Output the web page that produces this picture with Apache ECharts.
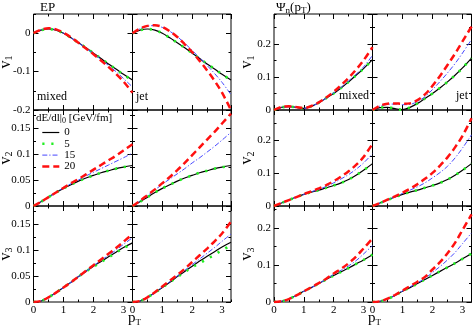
<!DOCTYPE html>
<html><head><meta charset="utf-8">
<script src="https://cdn.jsdelivr.net/npm/echarts@6/dist/echarts.min.js"></script>
<style>html,body{margin:0;padding:0;background:#fff}#c{width:473px;height:331px}</style>
</head><body><div id="c"></div>
<script>
// pT sample points (GeV)
const pT = [0,0.25,0.5,0.75,1,1.25,1.5,1.75,2,2.25,2.5,2.75,3,3.3];
// dE/dl|0 values [GeV/fm]
const losses = ['0','5','15','20'];
const xTickLabels = ['0','1','2','3'];

// EP panels: each is [dE=0, dE=5, dE=15, dE=20]
const epV1Mixed = [
  [0,0.008,0.011,0.008,0.0,-0.012,-0.025,-0.038,-0.052,-0.066,-0.08,-0.093,-0.107,-0.122],
  [0,0.008,0.011,0.008,0.0,-0.012,-0.025,-0.038,-0.052,-0.066,-0.08,-0.094,-0.108,-0.123],
  [0,0.009,0.012,0.009,0.0,-0.012,-0.025,-0.039,-0.053,-0.068,-0.084,-0.1,-0.118,-0.14],
  [0,0.009,0.013,0.01,0.001,-0.011,-0.025,-0.04,-0.055,-0.071,-0.088,-0.106,-0.126,-0.155]
];
const epV1Jet = [
  [0,0.008,0.011,0.008,0.0,-0.012,-0.025,-0.038,-0.052,-0.066,-0.08,-0.093,-0.107,-0.122],
  [0,0.008,0.011,0.008,0.0,-0.012,-0.025,-0.038,-0.052,-0.066,-0.08,-0.093,-0.107,-0.122],
  [0,0.012,0.018,0.02,0.015,0.005,-0.009,-0.026,-0.045,-0.064,-0.084,-0.105,-0.128,-0.16],
  [0,0.012,0.019,0.021,0.016,0.005,-0.01,-0.029,-0.049,-0.072,-0.097,-0.124,-0.155,-0.2]
];
const epV2Mixed = [
  [0,0.008,0.017,0.026,0.034,0.041,0.048,0.054,0.059,0.064,0.068,0.072,0.075,0.078],
  [0,0.008,0.017,0.026,0.034,0.041,0.048,0.054,0.059,0.064,0.068,0.072,0.075,0.078],
  [0,0.008,0.017,0.026,0.035,0.043,0.05,0.058,0.065,0.072,0.079,0.086,0.093,0.102],
  [0,0.008,0.017,0.026,0.035,0.044,0.052,0.061,0.07,0.079,0.088,0.097,0.107,0.119]
];
const epV2Jet = [
  [0,0.008,0.017,0.026,0.034,0.041,0.048,0.054,0.059,0.064,0.068,0.072,0.075,0.078],
  [0,0.008,0.017,0.026,0.034,0.041,0.048,0.054,0.059,0.064,0.068,0.072,0.075,0.077],
  [0,0.01,0.02,0.031,0.042,0.052,0.062,0.072,0.083,0.093,0.104,0.115,0.127,0.142],
  [0,0.01,0.021,0.032,0.044,0.056,0.069,0.083,0.098,0.113,0.128,0.143,0.159,0.178]
];
const epV3Mixed = [
  [0,0.002,0.009,0.018,0.028,0.038,0.049,0.059,0.069,0.078,0.087,0.096,0.105,0.114],
  [0,0.002,0.009,0.018,0.028,0.038,0.049,0.059,0.068,0.077,0.086,0.095,0.104,0.112],
  [0,0.002,0.009,0.018,0.028,0.038,0.049,0.059,0.07,0.08,0.09,0.1,0.111,0.124],
  [0,0.002,0.009,0.018,0.028,0.038,0.049,0.06,0.071,0.082,0.093,0.104,0.116,0.131]
];
const epV3Jet = [
  [0,0.002,0.009,0.018,0.028,0.038,0.049,0.059,0.069,0.079,0.088,0.097,0.106,0.115],
  [0,0.002,0.009,0.018,0.028,0.038,0.048,0.058,0.067,0.075,0.083,0.091,0.1,0.109],
  [0,0.002,0.009,0.018,0.029,0.039,0.05,0.061,0.072,0.083,0.094,0.105,0.117,0.131],
  [0,0.002,0.009,0.019,0.03,0.041,0.052,0.064,0.077,0.09,0.103,0.117,0.132,0.155]
];
// Psi_n(pT) panels
const psiV1Mixed = [
  [0,0.008,0.01,0.008,0.005,0.011,0.022,0.036,0.05,0.067,0.085,0.105,0.125,0.152],
  [0,0.008,0.01,0.008,0.005,0.011,0.022,0.036,0.05,0.067,0.085,0.105,0.125,0.152],
  [0,0.008,0.01,0.008,0.005,0.011,0.022,0.036,0.052,0.069,0.088,0.108,0.13,0.165],
  [0,0.009,0.011,0.009,0.006,0.012,0.023,0.038,0.055,0.075,0.097,0.122,0.15,0.19]
];
const psiV1Jet = [
  [0,0.007,0.008,0.004,0.001,0.008,0.02,0.035,0.05,0.067,0.085,0.105,0.127,0.157],
  [0,0.007,0.008,0.004,0.001,0.008,0.02,0.035,0.05,0.067,0.085,0.105,0.127,0.157],
  [0,0.012,0.017,0.018,0.016,0.017,0.026,0.04,0.062,0.086,0.112,0.14,0.172,0.213],
  [0,0.013,0.019,0.02,0.019,0.02,0.03,0.047,0.073,0.103,0.136,0.17,0.207,0.252]
];
const psiV2Mixed = [
  [0,0.009,0.018,0.027,0.035,0.042,0.048,0.055,0.062,0.07,0.08,0.093,0.108,0.128],
  [0,0.009,0.018,0.027,0.035,0.042,0.048,0.055,0.062,0.07,0.08,0.093,0.108,0.128],
  [0,0.009,0.018,0.027,0.035,0.043,0.05,0.059,0.07,0.082,0.095,0.111,0.13,0.158],
  [0,0.009,0.018,0.027,0.036,0.044,0.053,0.063,0.075,0.089,0.105,0.124,0.148,0.188]
];
const psiV2Jet = [
  [0,0.009,0.018,0.027,0.035,0.042,0.048,0.055,0.062,0.07,0.08,0.093,0.108,0.128],
  [0,0.009,0.018,0.027,0.035,0.042,0.048,0.055,0.062,0.07,0.08,0.093,0.108,0.128],
  [0,0.009,0.018,0.028,0.038,0.048,0.058,0.07,0.085,0.101,0.12,0.145,0.175,0.215],
  [0,0.009,0.019,0.029,0.04,0.052,0.066,0.082,0.1,0.122,0.147,0.177,0.212,0.265]
];
const psiV3Mixed = [
  [0,0.002,0.008,0.018,0.029,0.039,0.05,0.061,0.072,0.082,0.092,0.103,0.114,0.128],
  [0,0.002,0.008,0.018,0.029,0.039,0.05,0.061,0.072,0.082,0.092,0.103,0.114,0.128],
  [0,0.002,0.008,0.018,0.029,0.039,0.05,0.062,0.075,0.086,0.098,0.112,0.13,0.153],
  [0,0.002,0.008,0.018,0.029,0.04,0.051,0.063,0.077,0.09,0.105,0.123,0.145,0.172]
];
const psiV3Jet = [
  [0,0.002,0.008,0.018,0.029,0.039,0.05,0.061,0.072,0.083,0.094,0.105,0.117,0.131],
  [0,0.002,0.008,0.018,0.029,0.039,0.05,0.061,0.072,0.083,0.094,0.105,0.117,0.131],
  [0,0.002,0.008,0.018,0.03,0.041,0.052,0.064,0.08,0.096,0.114,0.134,0.158,0.187],
  [0,0.002,0.009,0.019,0.031,0.043,0.055,0.068,0.088,0.108,0.132,0.16,0.195,0.237]
];

const FONT = 'Liberation Serif';
const colX = [[33.5,99],[132.5,98.5],[274,98.5],[372.5,99]];
const rowY = [14,110,206];
const rowH = 96;

const panels = [
  {c:0,r:0,d:epV1Mixed,min:-0.2,max:0.05,maj:0.1,mi:0.05,n:'1'},
  {c:1,r:0,d:epV1Jet,min:-0.2,max:0.05,maj:0.1,mi:0.05},
  {c:0,r:1,d:epV2Mixed,min:0,max:0.185,maj:0.05,mi:0.025,n:'2'},
  {c:1,r:1,d:epV2Jet,min:0,max:0.185,maj:0.05,mi:0.025},
  {c:0,r:2,d:epV3Mixed,min:0,max:0.185,maj:0.05,mi:0.025,n:'3'},
  {c:1,r:2,d:epV3Jet,min:0,max:0.185,maj:0.05,mi:0.025},
  {c:2,r:0,d:psiV1Mixed,min:0,max:0.29,maj:0.1,mi:0.05,n:'1'},
  {c:3,r:0,d:psiV1Jet,min:0,max:0.29,maj:0.1,mi:0.05},
  {c:2,r:1,d:psiV2Mixed,min:0,max:0.29,maj:0.1,mi:0.05,n:'2'},
  {c:3,r:1,d:psiV2Jet,min:0,max:0.29,maj:0.1,mi:0.05},
  {c:2,r:2,d:psiV3Mixed,min:0,max:0.26,maj:0.1,mi:0.05,n:'3'},
  {c:3,r:2,d:psiV3Jet,min:0,max:0.26,maj:0.1,mi:0.05}
];

const styles = [
  {color:'#000000', width:1.2, type:'solid', cap:'butt'},
  {color:'#22ee22', width:2.6, type:[2.2,6.8], cap:'butt'},
  {color:'#4646ff', width:1, type:[5,2,1.2,2], cap:'butt'},
  {color:'#ff1010', width:2.5, type:[7,4], cap:'butt'}
];

const grid=[], xAxis=[], yAxis=[], series=[];
const lbl = {fontFamily:FONT, fontSize:11, color:'#000'};
const noLine = {show:false, onZero:false};
panels.forEach((p,i)=>{
  grid.push({left:colX[p.c][0], top:rowY[p.r], width:colX[p.c][1], height:rowH,
    show:true, borderColor:'#000', borderWidth:1, backgroundColor:'transparent',
    containLabel:false, outerBoundsMode:'none'});
  const xBase = {type:'value', gridIndex:i, min:0, max:3.3, axisLine:noLine, splitLine:{show:false}};
  const showX = p.r===2;
  xAxis.push(Object.assign({}, xBase, {position:'bottom', interval:1,
    axisTick:{show:true, inside:true, length:5, lineStyle:{color:'#000'}},
    axisLabel:Object.assign({show:showX, margin:3, showMaxLabel:false, showMinLabel:true,
      formatter:(v)=>xTickLabels[Math.round(v)]||''}, lbl)}));
  xAxis.push(Object.assign({}, xBase, {position:'bottom', interval:0.5,
    axisTick:{show:true, inside:true, length:2.5, lineStyle:{color:'#000'}}, axisLabel:{show:false}}));
  xAxis.push(Object.assign({}, xBase, {position:'top', interval:1,
    axisTick:{show:true, inside:true, length:5, lineStyle:{color:'#000'}}, axisLabel:{show:false}}));
  xAxis.push(Object.assign({}, xBase, {position:'top', interval:0.5,
    axisTick:{show:true, inside:true, length:2.5, lineStyle:{color:'#000'}}, axisLabel:{show:false}}));
  const yBase = {type:'value', gridIndex:i, min:p.min, max:p.max, axisLine:noLine, splitLine:{show:false}};
  const showY = (p.c===0 || p.c===2);
  const yMain = Object.assign({}, yBase, {position:'left', interval:p.maj,
    axisTick:{show:true, inside:true, length:5, lineStyle:{color:'#000'}},
    axisLabel:Object.assign({show:showY, margin:3, showMaxLabel:false, showMinLabel:true,
      formatter:(v)=>{const r=Math.round(v*1000)/1000; return r===0?'0':String(r);}}, lbl)});
  if (p.n) {
    yMain.name = '{v|v}{s|' + p.n + '}';
    yMain.nameLocation = 'middle';
    yMain.nameRotate = 90;
    yMain.nameMoveOverlap = false;
    yMain.nameGap = p.c===0 ? 19 : 18;
    yMain.nameTextStyle = {fontFamily:FONT, color:'#000', fontSize:15,
      rich:{v:{fontFamily:FONT, fontSize:16, color:'#000'}, s:{fontFamily:FONT, fontSize:10, color:'#000', padding:[8,0,0,0]}}};
  }
  yAxis.push(yMain);
  yAxis.push(Object.assign({}, yBase, {position:'left', interval:p.mi,
    axisTick:{show:true, inside:true, length:2.5, lineStyle:{color:'#000'}}, axisLabel:{show:false}}));
  yAxis.push(Object.assign({}, yBase, {position:'right', interval:p.maj,
    axisTick:{show:true, inside:true, length:5, lineStyle:{color:'#000'}}, axisLabel:{show:false}}));
  yAxis.push(Object.assign({}, yBase, {position:'right', interval:p.mi,
    axisTick:{show:true, inside:true, length:2.5, lineStyle:{color:'#000'}}, axisLabel:{show:false}}));
  p.d.forEach((vals,k)=>{
    const st = styles[k];
    series.push({type:'line', name:losses[k], xAxisIndex:4*i, yAxisIndex:4*i,
      data: pT.map((x,j)=>[x, vals[j]]), showSymbol:false, symbol:'none', smooth:0.35,
      clip:true, color:st.color, z: 2+k,
      lineStyle:{color:st.color, width:st.width, type:st.type, cap:st.cap}});
  });
});

const tFont = (s)=> s + 'px ' + FONT;
const graphic = [
  {type:'text', left:40, top:1, style:{text:'EP', font:tFont(13), fill:'#000'}},
  {type:'text', left:276, top:1, style:{text:'{a|Ψ}{s|n}{a|(p}{s|T}{a|)}', fill:'#000',
    rich:{a:{fontFamily:FONT, fontSize:13, color:'#000'}, s:{fontFamily:FONT, fontSize:9, color:'#000', padding:[6,0,0,0]}}}},
  {type:'text', left:37, top:91, style:{text:'mixed', font:tFont(12), fill:'#000'}},
  {type:'text', left:136, top:91, style:{text:'jet', font:tFont(12), fill:'#000'}},
  {type:'text', right:104, top:90, style:{text:'mixed', font:tFont(12), fill:'#000'}},
  {type:'text', right:5, top:90, style:{text:'jet', font:tFont(12), fill:'#000'}},
  {type:'text', left:36, top:113, style:{text:'{a|dE/dl|}{s|0}{a| [GeV/fm]}', fill:'#000',
    rich:{a:{fontFamily:FONT, fontSize:11, color:'#000'}, s:{fontFamily:FONT, fontSize:8, color:'#000', padding:[5,0,0,0]}}}},
  {type:'text', left:128, top:311, style:{text:'{a|p}{s|T}', fill:'#000',
    rich:{a:{fontFamily:FONT, fontSize:15, color:'#000'}, s:{fontFamily:FONT, fontSize:9, color:'#000', padding:[9,0,0,0]}}}},
  {type:'text', left:368, top:311, style:{text:'{a|p}{s|T}', fill:'#000',
    rich:{a:{fontFamily:FONT, fontSize:15, color:'#000'}, s:{fontFamily:FONT, fontSize:9, color:'#000', padding:[9,0,0,0]}}}}
];

const legendData = losses.map((n,k)=>({name:n,
  itemStyle:{opacity:0, color:'rgba(0,0,0,0)', borderWidth:0},
  lineStyle:{color:styles[k].color, width:styles[k].width, type:styles[k].type, cap:styles[k].cap, opacity:1}}));

const chart = echarts.init(document.getElementById('c'), null, {renderer:'canvas'});
chart.setOption({
  animation:false,
  backgroundColor:'#fff',
  grid, xAxis, yAxis, series, graphic,
  legend:{show:true, data:legendData, orient:'vertical', left:41, top:127, padding:0,
    itemWidth:17, itemHeight:10, itemGap:0.3, selectedMode:false,
    itemStyle:{opacity:0, borderWidth:0},
    textStyle:{fontFamily:FONT, fontSize:11, color:'#000', lineHeight:10}}
});
</script></body></html>
